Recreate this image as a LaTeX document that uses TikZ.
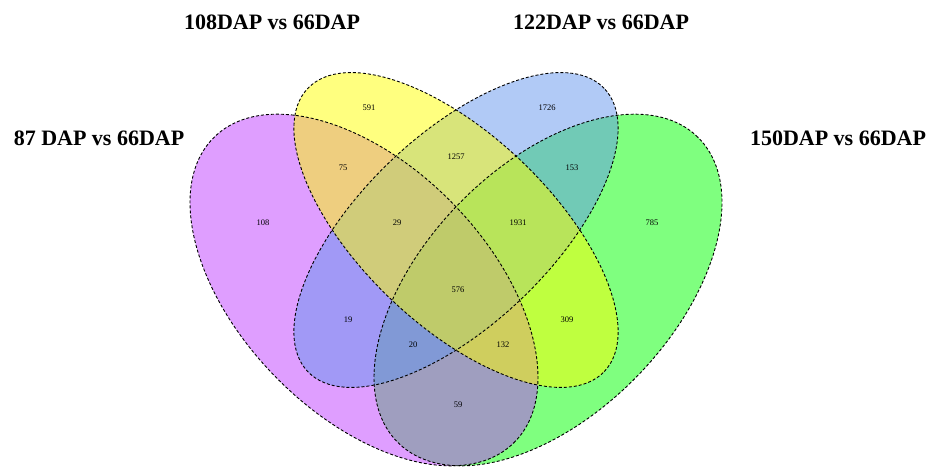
\documentclass[tikz,border=0pt]{standalone}
\usepackage{fontspec}
\setmainfont{Liberation Serif}
\definecolor{cA}{RGB}{191,62,255}
\definecolor{cB}{RGB}{255,255,0}
\definecolor{cC}{RGB}{100,149,237}
\definecolor{cD}{RGB}{0,255,0}
\tikzset{
  setfill/.style={fill=#1, fill opacity=0.5},
  setline/.style={draw=black, line width=0.9pt, dash pattern=on 3pt off 2pt},
  num/.style={font=\fontsize{8.5}{9}\selectfont, inner sep=0pt},
  ttl/.style={font=\fontsize{22}{24}\selectfont\bfseries, inner sep=0pt}
}
\begin{document}
\begin{tikzpicture}
\useasboundingbox (0,0) rectangle (933pt,466pt);
\begin{scope}[shift={(0,466pt)}, x=1pt, y=-1pt]
% fills (order: green, purple, blue, yellow)
\path[setfill=cD, rotate around={45.6:(548,290)}] (548,290) ellipse [x radius=214pt, y radius=124pt];
\path[setfill=cA, rotate around={-45.6:(364,290)}] (364,290) ellipse [x radius=214pt, y radius=124pt];
\path[setfill=cC, rotate around={43.7:(456,230)}] (456,230) ellipse [x radius=205pt, y radius=95pt];
\path[setfill=cB, rotate around={-43.7:(456,230)}] (456,230) ellipse [x radius=205pt, y radius=95pt];
% outlines
\path[setline, rotate around={45.6:(548,290)}] (548,290) ellipse [x radius=214pt, y radius=124pt];
\path[setline, rotate around={-45.6:(364,290)}] (364,290) ellipse [x radius=214pt, y radius=124pt];
\path[setline, rotate around={43.7:(456,230)}] (456,230) ellipse [x radius=205pt, y radius=95pt];
\path[setline, rotate around={-43.7:(456,230)}] (456,230) ellipse [x radius=205pt, y radius=95pt];
% titles
\node[ttl] (tB) at (272,22) {108DAP vs 66DAP};
\node[ttl] (tC) at (601,22) {122DAP vs 66DAP};
\node[ttl] (tA) at (99,138) {87 DAP vs 66DAP};
\node[ttl] (tD) at (838,138) {150DAP vs 66DAP};
% counts
\node[num] (n591) at (369,108) {591};
\node[num] (n1726) at (547,108) {1726};
\node[num] (n108) at (263,223) {108};
\node[num] (n75) at (343,168) {75};
\node[num] (n1257) at (456,157) {1257};
\node[num] (n153) at (572,168) {153};
\node[num] (n785) at (652,223) {785};
\node[num] (n29) at (397,223) {29};
\node[num] (n1931) at (518,223) {1931};
\node[num] (n576) at (458,290) {576};
\node[num] (n19) at (348,320) {19};
\node[num] (n309) at (567,320) {309};
\node[num] (n20) at (413,345) {20};
\node[num] (n132) at (503,345) {132};
\node[num] (n59) at (458,405) {59};
\end{scope}
\end{tikzpicture}
\end{document}
